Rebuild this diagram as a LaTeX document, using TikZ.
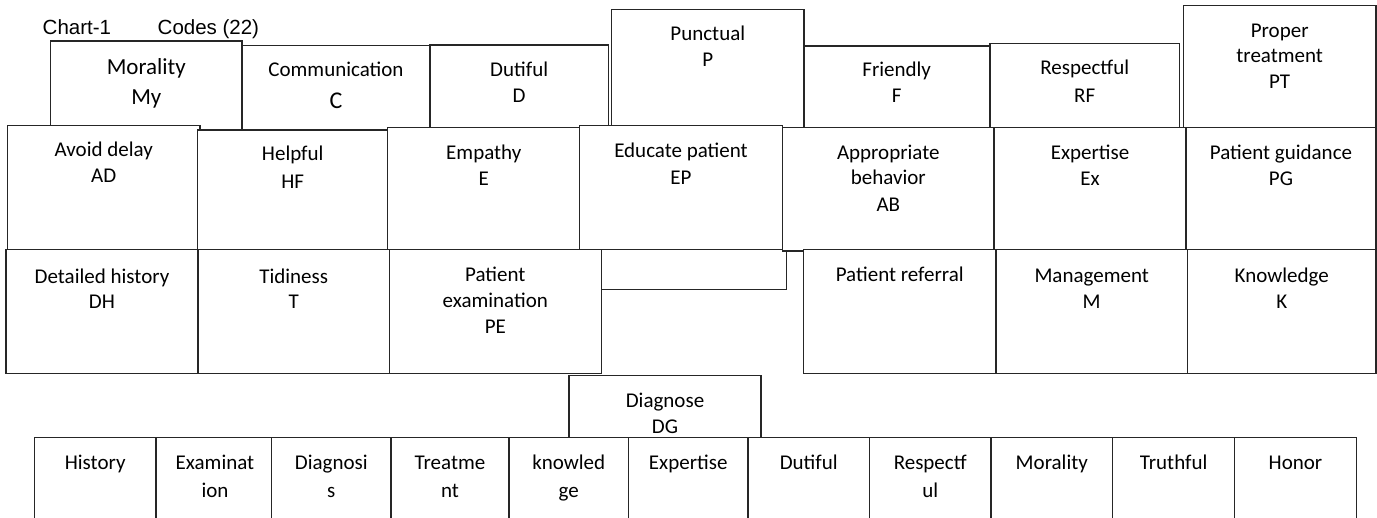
\documentclass[tikz,border=0pt]{standalone}
\usepackage{fontspec}
\setmainfont{Carlito}
\newfontfamily\arialf{Liberation Sans}
\newcommand\bbox[5]{%
  \pgfmathsetmacro\bxw{#4-#2}%
  \pgfmathsetmacro\bxh{#5-#3}%
  \pgfmathsetmacro\bxx{(#2+#4)/2}%
  \pgfmathsetmacro\bxy{(#3+#5)/2}%
  \node[boxst, minimum width=\bxw pt, minimum height=\bxh pt] (#1) at (\bxx,\bxy) {};%
}
\newcommand\tl[5][lbl]{\node[#1] (#2) at (#3,#4) {#5};}
\tikzset{
  boxst/.style={draw=black!85, line width=1.1pt, fill=white, rectangle, inner sep=0pt, outer sep=0pt},
  lbl/.style={anchor=base, inner sep=0pt, outer sep=0pt, font=\fontsize{21}{26}\selectfont},
  biglbl/.style={lbl, font=\fontsize{23}{28}\selectfont},
  hugelbl/.style={lbl, font=\fontsize{24}{29}\selectfont},
  hdr/.style={anchor=base west, inner sep=0pt, outer sep=0pt, font=\arialf\fontsize{20.5}{25}\selectfont}
}
\begin{document}
\begin{tikzpicture}[x=1pt,y=-1pt]
\useasboundingbox (0,0) rectangle (1377,518);
\clip (0,0) rectangle (1377,518);
\fill[white] (0,0) rectangle (1377,518);
% header
\node[hdr] (chart) at (42.7,34.3) {Chart-1};
\node[hdr] (codes) at (157.7,34.3) {Codes (22)};
% top row
\bbox{my}{50.7}{41}{242}{130}
\bbox{co}{242}{45.7}{430}{130}
\bbox{du}{430}{45}{608.3}{127.7}
\bbox{pu}{611.7}{9.3}{804}{127.7}
\bbox{fr}{804}{46}{989.3}{127.7}
\bbox{rf}{990}{43.3}{1179.3}{127.7}
\bbox{pt}{1183.3}{5.7}{1376}{127.7}
% box hidden behind the second row
\bbox{mx}{601.3}{249.5}{786.7}{289.3}
% second row
\bbox{ad}{7.3}{125.7}{200}{249.5}
\bbox{hf}{197.7}{130}{387.7}{249.5}
\bbox{em}{387.7}{127.7}{582}{249.5}
\bbox{ep}{579.3}{125.7}{782.7}{249.5}
\bbox{ab}{782.7}{127.7}{994}{251}
\bbox{xp}{994}{127.7}{1186}{249.5}
\bbox{pg}{1186}{127.7}{1376}{249.5}
% third row
\bbox{dh}{6}{249.5}{198}{373.5}
\bbox{ti}{198}{249.5}{389.3}{373.5}
\bbox{pe}{389.3}{249.5}{601.3}{373.5}
\bbox{pr}{803.3}{249.5}{996}{373.5}
\bbox{mg}{996}{249.5}{1187.3}{373.5}
\bbox{kn}{1187.3}{249.5}{1376}{373.5}
% diagnose
\bbox{dg}{569}{375.7}{761}{437.7}
% bottom row
\bbox{c1}{34.3}{437.7}{156}{530}
\bbox{c2}{156}{437.7}{271.7}{530}
\bbox{c3}{271.7}{437.7}{391}{530}
\bbox{c4}{391}{437.7}{509}{530}
\bbox{c5}{509}{437.7}{628.3}{530}
\bbox{c6}{628.3}{437.7}{748}{530}
\bbox{c7}{748}{437.7}{869.3}{530}
\bbox{c8}{869.3}{437.7}{991}{530}
\bbox{c9}{991}{437.7}{1112.7}{530}
\bbox{c10}{1112.7}{437.7}{1234.7}{530}
\bbox{c11}{1234.7}{437.7}{1356.3}{530}
% texts top row
\tl[biglbl]{myA}{146.3}{75}{Morality}
\tl[biglbl]{myB}{146.3}{104.5}{My}
\tl{coA}{336}{76.7}{Communication}
\tl[hugelbl]{coB}{336}{109}{C}
\tl{duA}{519.2}{76.7}{Dutiful}
\tl{duB}{519.2}{102.7}{D}
\tl{puA}{707.8}{41}{Punctual}
\tl{puB}{707.8}{66.7}{P}
\tl{frA}{896.7}{77}{Friendly}
\tl{frB}{896.7}{103}{F}
\tl{rfA}{1084.7}{75}{Respectful}
\tl{rfB}{1084.7}{102.7}{RF}
\tl{ptA}{1279.7}{37.7}{Proper}
\tl{ptB}{1279.7}{62.7}{treatment}
\tl{ptC}{1279.7}{88.3}{PT}
% texts second row
\tl{adA}{103.7}{156.7}{Avoid delay}
\tl{adB}{103.7}{182.7}{AD}
\tl{hfA}{292.7}{161}{Helpful}
\tl{hfB}{292.7}{188.3}{HF}
\tl{emA}{483.8}{160}{Empathy}
\tl{emB}{483.8}{185.7}{E}
\tl{epA}{681}{157.7}{Educate patient}
\tl{epB}{681}{184.3}{EP}
\tl{abA}{888.3}{160}{Appropriate}
\tl{abB}{888.3}{185}{behavior}
\tl{abC}{888.3}{211.7}{AB}
\tl{xpA}{1090}{160}{Expertise}
\tl{xpB}{1090}{185.7}{Ex}
\tl{pgA}{1281}{160}{Patient guidance}
\tl{pgB}{1281}{185.7}{PG}
% texts third row
\tl{dhA}{102}{283.3}{Detailed history}
\tl{dhB}{102}{308.7}{DH}
\tl{tiA}{293.7}{283.3}{Tidiness}
\tl{tiB}{293.7}{308.7}{T}
\tl{peA}{495.3}{281.7}{Patient}
\tl{peB}{495.3}{307.7}{examination}
\tl{peC}{495.3}{334}{PE}
\tl{prA}{899.7}{281.7}{Patient referral}
\tl{mgA}{1091.7}{282.7}{Management}
\tl{mgB}{1091.7}{308.7}{M}
\tl{knA}{1281.7}{282.7}{Knowledge}
\tl{knB}{1281.7}{308.7}{K}
% diagnose
\tl{dgA}{665}{407.7}{Diagnose}
\tl{dgB}{665}{433.3}{DG}
% bottom row texts
\tl{c1A}{95.2}{470}{History}
\tl{c2A}{215}{470}{Examinat}
\tl{c2B}{215}{497.3}{ion}
\tl{c3A}{331.3}{470}{Diagnosi}
\tl{c3B}{331.3}{497.3}{s}
\tl{c4A}{450}{470}{Treatme}
\tl{c4B}{450}{497.3}{nt}
\tl{c5A}{568.7}{470}{knowled}
\tl{c5B}{568.7}{497.3}{ge}
\tl{c6A}{688.2}{470}{Expertise}
\tl{c7A}{808.7}{470}{Dutiful}
\tl{c8A}{930.2}{470}{Respectf}
\tl{c8B}{930.2}{497.3}{ul}
\tl{c9A}{1051.8}{470}{Morality}
\tl{c10A}{1173.7}{470}{Truthful}
\tl{c11A}{1295.5}{470}{Honor}
\end{tikzpicture}
\end{document}
